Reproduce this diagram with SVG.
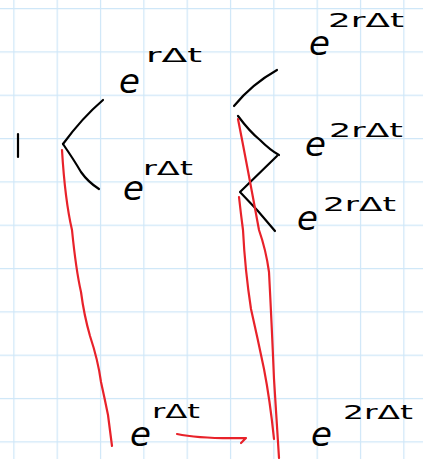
<svg xmlns="http://www.w3.org/2000/svg" width="423" height="459" viewBox="0 0 423 459">
<defs>
<pattern id="grid" x="13.3" y="8" width="43.33" height="43.33" patternUnits="userSpaceOnUse">
<path d="M0 0 V43.33 M0 0 H43.33" stroke="#cfe7f8" stroke-width="2.4" fill="none"/>
</pattern>
</defs>
<style>
.ink{fill:none;stroke:#000;stroke-width:2.2;stroke-linecap:round;stroke-linejoin:round}
.red{fill:none;stroke:#e8222a;stroke-width:2.2;stroke-linecap:round;stroke-linejoin:round}
.e{font-family:"DejaVu Sans",sans-serif;font-style:italic;font-size:34px;fill:#000}
.s{font-family:"DejaVu Sans",sans-serif;font-size:20px;fill:#000}
</style>
<rect width="423" height="459" fill="#fff"/>
<rect width="423" height="459" fill="url(#grid)"/>
<g id="connectors">
<path class="ink" d="M63 144 Q82 118 103 100"/>
<path class="ink" d="M63 144 Q74 160 81 172 Q88 182 99 189"/>
<path class="ink" d="M234 106 Q252 84 277 70"/>
<path class="ink" d="M238 116 Q250 132 260 140 Q270 150 279 155"/>
<path class="ink" d="M277 156 L240 192 Q258 210 275 231"/>
<path class="red" d="M62 150 Q65 200 72 230 Q76 270 81 292 Q84 315 90 336 Q98 360 101 382 Q105 400 108 415 L112 446"/>
<path class="red" d="M238 119 Q248 170 259 230 Q266 250 269 272 Q272 330 274 379 L279 458"/>
<path class="red" d="M239 197 Q241 215 243 230 Q245 270 251 309 Q258 340 264 369 Q270 400 274 439"/>
<path class="red" d="M177 434 Q200 439 246 438 Q243 441 241 443"/>
</g>
<g id="n1"><path class="ink" d="M18 134 L18 157"/></g>
<g id="u1"><text class="e" x="119" y="93">e</text><text class="s" x="146" y="62" textLength="56" lengthAdjust="spacingAndGlyphs">rΔt</text></g>
<g id="d1"><text class="e" x="123" y="200">e</text><text class="s" x="143" y="175" textLength="50" lengthAdjust="spacingAndGlyphs">rΔt</text></g>
<g id="uu"><text class="e" x="309" y="55">e</text><text class="s" x="328" y="27" textLength="76" lengthAdjust="spacingAndGlyphs">2rΔt</text></g>
<g id="ud"><text class="e" x="305" y="156">e</text><text class="s" x="329" y="137" textLength="74" lengthAdjust="spacingAndGlyphs">2rΔt</text></g>
<g id="dd"><text class="e" x="297" y="230">e</text><text class="s" x="323" y="211" textLength="73" lengthAdjust="spacingAndGlyphs">2rΔt</text></g>
<g id="b1"><text class="e" x="130" y="446">e</text><text class="s" x="152" y="418" textLength="48" lengthAdjust="spacingAndGlyphs">rΔt</text></g>
<g id="b2"><text class="e" x="311" y="446">e</text><text class="s" x="343" y="419" textLength="70" lengthAdjust="spacingAndGlyphs">2rΔt</text></g>
</svg>
